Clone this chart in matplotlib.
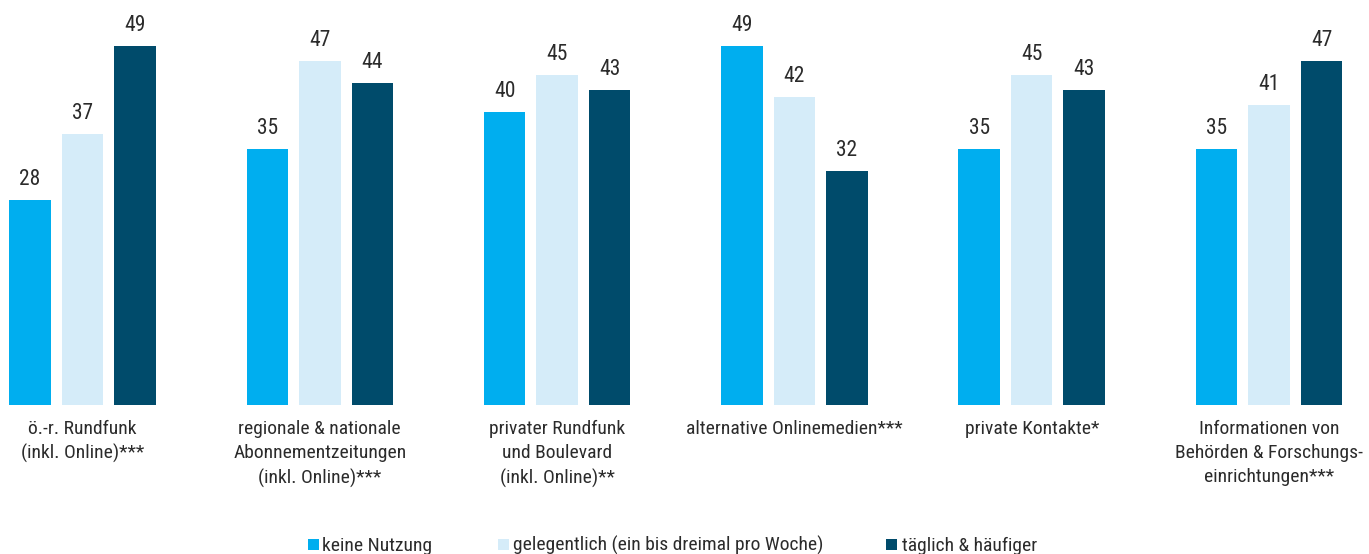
import matplotlib
matplotlib.use("Agg")
import matplotlib.pyplot as plt
from matplotlib import font_manager
from matplotlib.patches import Rectangle
import numpy as np

# ------------------------------------------------------------------------------------------
# data
categories = [
    "ö.-r. Rundfunk\n(inkl. Online)***",
    "regionale & nationale\nAbonnementzeitungen\n(inkl. Online)***",
    "privater Rundfunk\nund Boulevard\n(inkl. Online)**",
    "alternative Onlinemedien***",
    "private Kontakte*",
    "Informationen von\nBehörden & Forschungs-\neinrichtungen***",
]
series_names = [
    "keine Nutzung",
    "gelegentlich (ein bis dreimal pro Woche)",
    "täglich & häufiger",
]
keine_nutzung = [28, 35, 40, 49, 35, 35]
gelegentlich = [37, 47, 45, 42, 45, 41]
taeglich = [49, 44, 43, 32, 43, 47]

list_values = [keine_nutzung, gelegentlich, taeglich]
list_colors = ["#00AEEF", "#D5ECF9", "#004B6B"]
text_color = "#2B2B2B"

# ------------------------------------------------------------------------------------------
# pick a condensed sans (the reference uses a Helvetica Condensed-like face)
installed = set(f.name for f in font_manager.fontManager.ttflist)
candidates = ["Roboto Condensed", "Archivo Narrow", "PT Sans Narrow", "Liberation Sans Narrow",
              "Sofia Sans Condensed", "Barlow Condensed"]
chosen = [c for c in candidates if c in installed][:1]
plt.rcParams["font.family"] = chosen + ["DejaVu Sans"]
plt.rcParams["font.size"] = 14

W, H = 1369, 554
fig = plt.figure(figsize=(W / 100, H / 100), dpi=100)

# axes spans the whole width, baseline at y=405 px from top
ax = fig.add_axes([0, (H - 405) / H, 1, 405 / H])

pitch = 237.3
x = np.arange(len(categories))
offset = 52.5 / pitch
width = 41.5 / pitch

for ind_series, crrt_values in enumerate(list_values):
    crrt_x = x + (ind_series - 1) * offset
    bars = ax.bar(crrt_x, crrt_values, width=width, color=list_colors[ind_series],
                  label=series_names[ind_series])
    for crrt_bar, crrt_val in zip(bars, crrt_values):
        ax.annotate("{}".format(crrt_val),
                    xy=(crrt_bar.get_x() + crrt_bar.get_width() / 2, crrt_val),
                    xytext=(0, 10.8), textcoords="offset points",
                    ha="center", va="baseline", fontsize=15.5, color=text_color)

for crrt_x, crrt_cat in zip(x, categories):
    ax.annotate(crrt_cat, xy=(crrt_x, 0), xytext=(0, -10.5), textcoords="offset points",
                ha="center", va="top", fontsize=14, color=text_color,
                linespacing=1.45, annotation_clip=False)

ax.set_xlim(-82.5 / pitch, (W - 82.5) / pitch)
ax.set_ylim(0, 405 / 7.327)
ax.axis("off")

# ------------------------------------------------------------------------------------------
# legend drawn by hand to match the reference spacing
legend_pos = [(308, 322), (498, 513), (886, 902)]
for ind_series, (sq_x, txt_x) in enumerate(legend_pos):
    fig.patches.append(Rectangle((sq_x / W, (H - 550) / H), 11 / W, 11 / H,
                                 transform=fig.transFigure, facecolor=list_colors[ind_series],
                                 edgecolor="none"))
    fig.text(txt_x / W, (H - 551) / H, series_names[ind_series], ha="left", va="baseline",
             fontsize=14, color=text_color)

fig.savefig("out.png", dpi=100)
